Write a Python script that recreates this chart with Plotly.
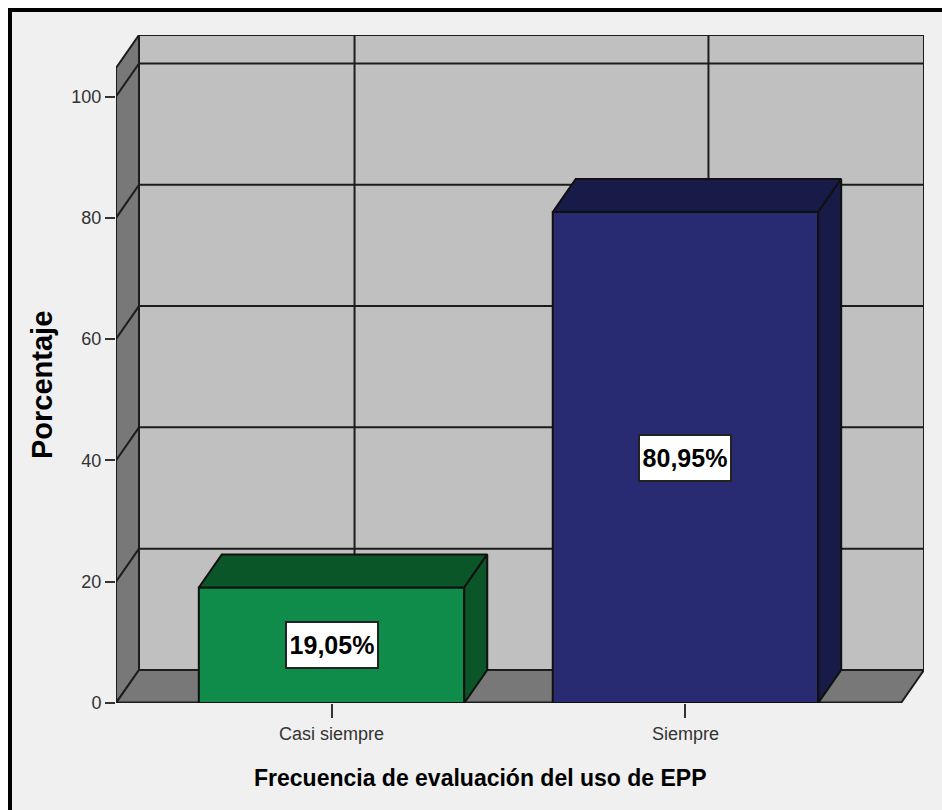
import plotly.graph_objects as go

categories = ['Casi siempre', 'Siempre']
percentages = [19.05, 80.95]
bar_labels = ['19,05%', '80,95%']
front_colors = ['#0f8c4a', '#282a72']
dark_colors = ['#0a5629', '#181a48']
y_ticks = [0, 20, 40, 60, 80, 100]

WIDTH, HEIGHT = 942, 810
BAR_W = 0.75
DX, DY = 0.065, 5.45          # depth of the fake 3D box
X_MIN, X_MAX = -0.609, 1.609
Y_TOP = 104.7
LINE = '#1c1c1c'

L, R, T, B = 116, 18, 35, 107
PLOT_W = WIDTH - L - R
PLOT_H = HEIGHT - T - B


def px_x(px):
    return (px - L) / PLOT_W


def px_y(py):
    return 1 - (py - T) / PLOT_H


def line_shape(x0, y0, x1, y1, width=2, color=LINE):
    return dict(type='line', x0=x0, y0=y0, x1=x1, y1=y1, layer='below',
                line=dict(color=color, width=width))


def poly_shape(points, fill):
    path = 'M ' + ' L '.join(f'{x},{y}' for x, y in points) + ' Z'
    return dict(type='path', path=path, fillcolor=fill, layer='below',
                line=dict(color=LINE, width=2))


def poly_trace(points, fill):
    xs = [p[0] for p in points] + [points[0][0]]
    ys = [p[1] for p in points] + [points[0][1]]
    return go.Scatter(x=xs, y=ys, mode='lines', fill='toself', fillcolor=fill,
                      line=dict(color='#101010', width=2), hoverinfo='skip')


def paper_rect(px0, py0, px1, py1, color):
    return dict(type='rect', xref='paper', yref='paper', layer='above',
                x0=px_x(px0), x1=px_x(px1), y0=px_y(py0), y1=px_y(py1),
                fillcolor=color, line=dict(width=0))


fig = go.Figure()

######### ROOM #########

shapes = [
    poly_shape([(X_MIN + DX, DY), (X_MAX + DX, DY), (X_MAX + DX, Y_TOP + DY), (X_MIN + DX, Y_TOP + DY)], '#c0c0c0'),
    poly_shape([(X_MIN, 0), (X_MIN + DX, DY), (X_MIN + DX, Y_TOP + DY), (X_MIN, Y_TOP)], '#787878'),
    poly_shape([(X_MIN, 0), (X_MAX, 0), (X_MAX + DX, DY), (X_MIN + DX, DY)], '#787878'),
]
for t in y_ticks[1:]:
    shapes.append(line_shape(X_MIN + DX, t + DY, X_MAX + DX, t + DY))
    shapes.append(line_shape(X_MIN, t, X_MIN + DX, t + DY))
for i in range(len(categories)):
    shapes.append(line_shape(i + DX, DY, i + DX, Y_TOP + DY))
shapes.append(line_shape(X_MIN, 0, X_MAX, 0, width=3))

######### BARS #########

fig.add_trace(go.Bar(
    x=list(range(len(categories))),
    y=percentages,
    width=BAR_W,
    marker=dict(color=front_colors, line=dict(color='#101010', width=2)),
))

for i, v in enumerate(percentages):
    x0, x1 = i - BAR_W / 2, i + BAR_W / 2
    fig.add_trace(poly_trace([(x0, v), (x1, v), (x1 + DX, v + DY), (x0 + DX, v + DY)], dark_colors[i]))
    fig.add_trace(poly_trace([(x1, 0), (x1 + DX, DY), (x1 + DX, v + DY), (x1, v)], dark_colors[i]))

annotations = [
    dict(x=i, y=v / 2, text=bar_labels[i], showarrow=False, bgcolor='white',
         bordercolor='#222222', borderwidth=2, width=88, height=42,
         font=dict(family='Liberation Sans', size=25, color='black', weight='bold'))
    for i, v in enumerate(percentages)
]

# axis titles sit off-centre in the original, so they are placed by hand
annotations.append(dict(
    xref='paper', yref='paper', x=px_x(480), y=px_y(778), showarrow=False,
    xanchor='center', yanchor='middle',
    text='<b>Frecuencia de evaluación del uso de EPP</b>',
    font=dict(family='Liberation Sans', size=23, color='black'),
))
annotations.append(dict(
    xref='paper', yref='paper', x=px_x(42), y=px_y(385), showarrow=False, textangle=-90,
    xanchor='center', yanchor='middle',
    text='<b>Porcentaje</b>',
    font=dict(family='Liberation Sans', size=29, color='black'),
))

fig.update_layout(
    width=WIDTH, height=HEIGHT,
    margin=dict(l=L, r=R, t=T, b=B, pad=0),
    paper_bgcolor='#f0f0f0', plot_bgcolor='#f0f0f0',
    showlegend=False,
    shapes=shapes + [
        paper_rect(0, 0, 942, 8, 'white'),
        paper_rect(0, 0, 8, 810, 'white'),
        paper_rect(8, 8, 942, 12, 'black'),
        paper_rect(8, 8, 12, 810, 'black'),
    ],
    annotations=annotations,
    xaxis=dict(
        range=[X_MIN, X_MAX + DX], tickvals=list(range(len(categories))), ticktext=categories,
        showgrid=False, zeroline=False, showline=False, ticks='outside', ticklen=14,
        tickwidth=2, tickcolor='#333333',
        tickfont=dict(family='Liberation Sans', size=18, color='#333333'),
    ),
    yaxis=dict(
        range=[0, Y_TOP + DY], tickvals=y_ticks, showgrid=False, zeroline=False, showline=False,
        ticks='outside', ticklen=10, tickwidth=2, tickcolor='#333333',
        tickfont=dict(family='Liberation Sans', size=18, color='#333333'),
    ),
)

fig.write_html(
    'out.html',
    config={'displayModeBar': False},
    post_script="document.body.style.margin='0';document.body.style.overflow='hidden';",
)
